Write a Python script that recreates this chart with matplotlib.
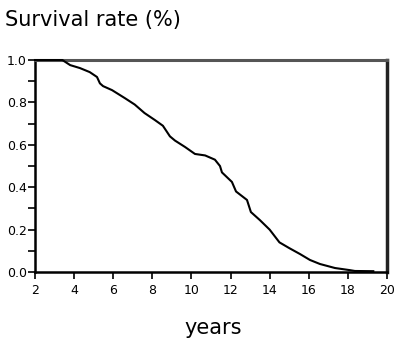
import numpy as np
import matplotlib.pyplot as plt
from matplotlib.ticker import MultipleLocator

# Survival curve
years = [2.0, 3.4, 3.8, 4.3, 4.8, 5.17, 5.32, 5.48, 5.94, 6.6, 7.1, 7.6, 8.13, 8.54,
         8.9, 9.16, 9.67, 10.18, 10.7, 11.2, 11.46, 11.56, 12.07, 12.28, 12.84, 13.04,
         13.5, 14.0, 14.5, 15.0, 15.55, 16.06, 16.57, 17.34, 18.1, 18.36, 19.3]
survival = [1.0, 1.0, 0.976, 0.962, 0.943, 0.92, 0.89, 0.877, 0.858, 0.82, 0.79, 0.75,
            0.717, 0.69, 0.64, 0.62, 0.59, 0.557, 0.55, 0.53, 0.50, 0.47, 0.425, 0.38,
            0.34, 0.283, 0.245, 0.2, 0.14, 0.113, 0.085, 0.057, 0.038, 0.019, 0.009,
            0.005, 0.004]

fig = plt.figure(figsize=(4.0, 3.47), dpi=100)
ax = fig.add_axes([0.0875, 0.216, 0.88, 0.611])

ax.plot(years, survival, color='black', linewidth=1.5, clip_on=False, zorder=5)

ax.set_xlim(2, 20)
ax.set_ylim(0, 1.0)
ax.set_xticks(np.arange(2, 21, 2))
ax.set_yticks(np.arange(0, 1.01, 0.2))
ax.set_yticklabels([f"{v:.1f}" for v in np.arange(0, 1.01, 0.2)])
ax.yaxis.set_minor_locator(MultipleLocator(0.1))
ax.tick_params(axis='both', which='both', direction='out', length=5, width=1.2, labelsize=9)
ax.tick_params(axis='y', pad=1)

ax.spines['left'].set_linewidth(1.8)
ax.spines['bottom'].set_linewidth(1.8)
ax.spines['top'].set_linewidth(2.2)
ax.spines['top'].set_color('#555555')
ax.spines['right'].set_linewidth(2.5)
ax.spines['right'].set_color('#222222')

fig.text(0.012, 0.942, "Survival rate (%)", fontsize=15, ha='left', va='center')
fig.text(0.533, 0.055, "years", fontsize=15, ha='center', va='center')

fig.savefig("out.png", dpi=100)
